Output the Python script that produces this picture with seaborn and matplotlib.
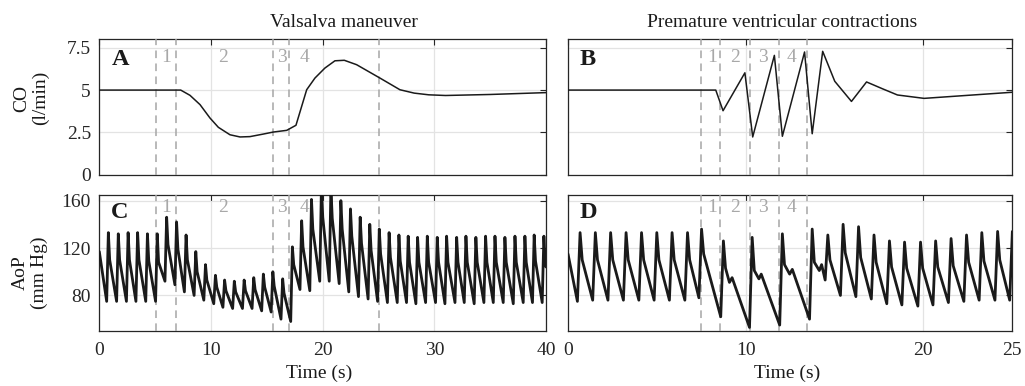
import pandas as pd
import seaborn as sns
import matplotlib.pyplot as plt
import matplotlib.transforms as mtransforms

# Cardiac output (l/min), Valsalva maneuver
co_valsalva_t = [0, 7.29, 8.12, 9.02, 9.91, 10.66, 11.70, 12.60, 13.49, 14.68, 15.58, 16.78,
                 17.61, 18.57, 19.31, 20.20, 21.10, 21.94, 23.04, 25.13, 26.92, 28.2, 29.5,
                 31.0, 35.0, 40.0]
co_valsalva = [5.0, 5.0, 4.69, 4.14, 3.35, 2.80, 2.36, 2.23, 2.25, 2.40, 2.52, 2.62,
               2.92, 5.02, 5.71, 6.30, 6.73, 6.76, 6.50, 5.71, 5.02, 4.82, 4.72,
               4.68, 4.74, 4.85]

# Cardiac output (l/min), premature ventricular contractions
co_pvc_t = [0, 8.32, 8.73, 9.96, 10.40, 11.62, 12.07, 13.32, 13.75, 14.34, 15.02, 15.96,
            16.81, 17.70, 18.55, 20.05, 25.0]
co_pvc = [5.0, 5.0, 3.78, 6.02, 2.23, 7.05, 2.27, 7.25, 2.42, 7.29, 5.52, 4.33,
          5.48, 5.08, 4.71, 4.51, 4.87]

# Aortic pressure (mm Hg), Valsalva: one entry per beat
aop_v_peak_t = [0.81, 1.70, 2.58, 3.43, 4.31, 5.19, 6.03, 6.92, 7.77, 8.64, 9.51, 10.40,
                11.22, 12.09, 12.97, 13.83, 14.69, 15.54, 16.42, 17.29, 18.12, 19.00, 19.89,
                20.74, 21.63, 22.49, 23.36, 24.22, 25.07, 25.95, 26.83, 27.66, 28.50, 29.37,
                30.26, 31.10, 32.00, 32.83, 33.72, 34.59, 35.43, 36.32, 37.22, 38.11, 38.94,
                39.81]
aop_v_peak = [133, 132, 133, 133, 132, 132, 146, 142, 131, 117, 106, 97,
              93, 92, 93, 95, 98, 100, 94, 121, 143, 161, 172,
              171, 160, 153, 146, 140, 136, 133, 131, 130, 129, 130,
              129, 130, 129, 130, 129, 130, 130, 129, 130, 130, 131,
              130]
aop_v_shoulder = [110, 110, 110, 110, 109, 108, 123, 119, 110, 100, 93, 87,
                  84, 83, 84, 85, 87, 88, 82, 106, 121, 136, 146,
                  145, 136, 130, 124, 118, 115, 112, 109, 108, 108, 108,
                  108, 108, 108, 108, 108, 108, 108, 108, 108, 108, 109,
                  108]
aop_v_trough = [75, 75, 75, 75, 75, 75, 92, 89, 83, 80, 76, 73,
                70, 69, 69, 69, 67, 66, 60, 58, 85, 84, 92,
                92, 90, 83, 79, 77, 75, 74, 74, 74, 73, 74,
                74, 73, 74, 74, 73, 74, 74, 74, 73, 74, 74,
                74]
aop_v_ends = [(0.0, 117), (40.0, 104)]

# Aortic pressure (mm Hg), PVC: one entry per beat
aop_p_peak_t = [0.68, 1.54, 2.40, 3.27, 4.14, 5.00, 5.86, 6.73, 7.52, 8.75, 10.37, 12.07,
                13.75, 14.63, 15.49, 16.36, 17.23, 18.10, 18.95, 19.85, 20.70, 21.57, 22.44,
                23.30, 24.19, 25.02]
aop_p_peak = [133, 133, 133, 133, 133, 133, 133, 133, 136, 126, 129, 132,
              136, 131, 140, 138, 131, 126, 125, 125, 126, 128, 131,
              133, 134, 134]
aop_p_shoulder = [110, 110, 110, 110, 110, 110, 110, 110, 115, 103, 101, 106,
                  108, 110, 116, 112, 108, 104, 103, 103, 104, 105, 108,
                  109, 110, 110]
aop_p_trough = [75, 76, 76, 76, 76, 76, 76, 76, 78, 62, 53, 55,
                60, 93, 80, 79, 77, 73, 72, 71, 72, 74, 75,
                76, 76, 76]
# notches on the beats that follow the extra systoles
aop_p_notch_t = [9.09, 9.24, 10.75, 10.88, 12.48, 12.63, 14.15, 14.28]
aop_p_notch = [91, 95, 94, 98, 98, 102, 101, 106]
aop_p_ends = [(0.0, 115)]

valsalva_marks = [5.05, 6.87, 15.53, 17.0, 25.05]
valsalva_phase_x = [6.03, 11.1, 16.33, 18.36]
pvc_marks = [7.50, 8.55, 10.22, 11.86, 13.48]
pvc_phase_x = [8.12, 9.43, 10.97, 12.61]
phase_names = ['1', '2', '3', '4']

RISE = 0.15      # trough -> systolic peak (s)
SHOULDER = 0.12  # peak -> shoulder (s)


def waveform(peak_t, peak, shoulder, trough, ends, extra_t=(), extra_p=()):
    t, p = [], []
    for pt, pp, sp, tp in zip(peak_t, peak, shoulder, trough):
        t += [pt - RISE, pt, pt + SHOULDER]
        p += [tp, pp, sp]
    for et, ep in ends:
        t.append(et)
        p.append(ep)
    t += list(extra_t)
    p += list(extra_p)
    return pd.DataFrame({'t': t, 'p': p}).sort_values('t')


aop_v = waveform(aop_v_peak_t, aop_v_peak, aop_v_shoulder, aop_v_trough, aop_v_ends)
aop_p = waveform(aop_p_peak_t, aop_p_peak, aop_p_shoulder, aop_p_trough, aop_p_ends,
                 aop_p_notch_t, aop_p_notch)

sns.set_theme(style='white')
plt.rcParams['font.family'] = ['Liberation Serif', 'DejaVu Serif']
plt.rcParams['axes.edgecolor'] = '#262626'

W, H = 1025, 386
FS = 14
fig = plt.figure(figsize=(W / 100, H / 100), dpi=100)


def px_axes(x0, x1, y0, y1):
    return fig.add_axes([x0 / W, 1 - y1 / H, (x1 - x0) / W, (y1 - y0) / H])


axA = px_axes(99.3, 546, 39.3, 174.7)
axB = px_axes(568, 1012, 39.3, 174.7)
axC = px_axes(99.3, 546, 194.7, 331)
axD = px_axes(568, 1012, 194.7, 331)

ink = '#1a1a1a'
sns.lineplot(x=co_valsalva_t, y=co_valsalva, ax=axA, color=ink, lw=1.1,
             estimator=None, sort=False, zorder=4)
sns.lineplot(x=co_pvc_t, y=co_pvc, ax=axB, color=ink, lw=1.1,
             estimator=None, sort=False, zorder=4)
sns.lineplot(data=aop_v, x='t', y='p', ax=axC, color=ink, lw=2.0,
             estimator=None, sort=False, zorder=4)
sns.lineplot(data=aop_p, x='t', y='p', ax=axD, color=ink, lw=2.0,
             estimator=None, sort=False, zorder=4)

for ax, letter, marks, phase_x, ytext in [
        (axA, 'A', valsalva_marks, valsalva_phase_x, 0.862),
        (axB, 'B', pvc_marks, pvc_phase_x, 0.862),
        (axC, 'C', valsalva_marks, valsalva_phase_x, 0.906),
        (axD, 'D', pvc_marks, pvc_phase_x, 0.906)]:
    for m in marks:
        ax.axvline(m, color='#a6a6a6', lw=1.1, ls=(0, (5, 3.5)), zorder=3)
    trans = mtransforms.blended_transform_factory(ax.transData, ax.transAxes)
    for xx, name in zip(phase_x, phase_names):
        ax.text(xx, ytext, name, transform=trans, ha='center', va='center',
                fontsize=FS, color='#a8a8a8', zorder=5)
    ybase = 0.81 if letter in 'AB' else 0.827
    ax.text(0.027, ybase, letter, transform=ax.transAxes, fontsize=17.5,
            fontweight='bold', color=ink, va='baseline', ha='left', zorder=6)
    ax.grid(True, color='#e3e3e3', lw=0.9)
    ax.set_axisbelow(True)
    ax.set_xlabel('')
    ax.set_ylabel('')
    ax.tick_params(direction='in', length=4, width=0.8, top=True, right=True,
                   colors='#262626', labelsize=FS, pad=6)
    for s in ax.spines.values():
        s.set_linewidth(0.9)

for ax in (axA, axB):
    ax.set_ylim(0, 8)
    ax.set_yticks([0, 2.5, 5, 7.5])
for ax in (axC, axD):
    ax.set_ylim(50, 165)
    ax.set_yticks([80, 120, 160])

axA.set_xlim(0, 40)
axC.set_xlim(0, 40)
axB.set_xlim(0, 25)
axD.set_xlim(0, 25)
for ax in (axA, axC):
    ax.set_xticks([0, 10, 20, 30, 40])
for ax in (axB, axD):
    ax.set_xticks([0, 10, 20, 25])

axA.set_yticklabels(['0', '2.5', '5', '7.5'])
axC.set_yticklabels(['80', '120', '160'])
for ax in (axA, axB):
    ax.tick_params(labelbottom=False)
for ax in (axB, axD):
    ax.tick_params(labelleft=False)
axC.tick_params(axis='x', pad=8)
axD.tick_params(axis='x', pad=8)

fig.text(344 / W, 1 - 27 / H, 'Valsalva maneuver', ha='center', va='baseline',
         fontsize=FS, color=ink)
fig.text(782 / W, 1 - 27 / H, 'Premature ventricular contractions', ha='center',
         va='baseline', fontsize=FS, color=ink)
fig.text(31 / W, 1 - 98 / H, 'CO\n(l/min)', rotation=90, ha='center', va='center',
         ma='center', fontsize=FS, color=ink, linespacing=1.1)
fig.text(30 / W, 1 - 272.5 / H, 'AoP\n(mm Hg)', rotation=90, ha='center', va='center',
         ma='center', fontsize=FS, color=ink, linespacing=1.1)
fig.text(319 / W, 1 - 378 / H, 'Time (s)', ha='center', va='baseline',
         fontsize=FS, color=ink)
fig.text(787 / W, 1 - 378 / H, 'Time (s)', ha='center', va='baseline',
         fontsize=FS, color=ink)

fig.savefig('out.png', dpi=100)
